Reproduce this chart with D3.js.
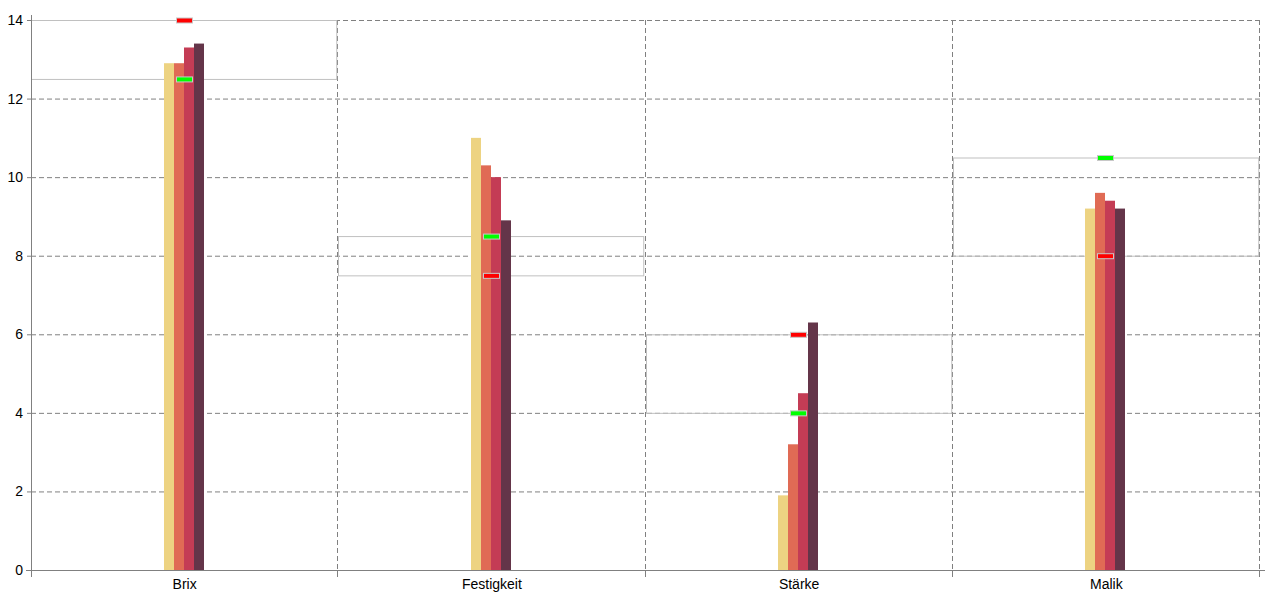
<!DOCTYPE html>
<html>
<head>
<meta charset="utf-8">
<script src="https://cdn.jsdelivr.net/npm/d3@7"></script>
<style>
	body { margin: 0; background: #fff; }
	svg text { font-family: 'Liberation Sans', Arial, sans-serif; font-size: 14px; fill: #000; }
</style>
</head>
<body>
<div class="chart"></div>
<script>
const categories = ['Brix', 'Festigkeit', 'Stärke', 'Malik']
const series = ['s1', 's2', 's3', 's4']
const colors = ['#edd382', '#e06b55', '#c43c55', '#643549']
const values = [
	[12.9, 12.9, 13.3, 13.4],
	[11.0, 10.3, 10.0, 8.9],
	[1.9, 3.2, 4.5, 6.3],
	[9.2, 9.6, 9.4, 9.2]
]
const minTarget = [12.5, 8.5, 4, 10.5]   // green
const maxTarget = [14, 7.5, 6, 8]        // red
const yTicks = [0, 2, 4, 6, 8, 10, 12, 14]

const W = 1280, H = 600
const axisX = 31

const svg = d3.select('div.chart').append('svg')
	.attr('width', W).attr('height', H)

const x = d3.scaleBand().domain(categories).range([30, 1259]).paddingInner(0).paddingOuter(0)
const xc = d3.scalePoint().domain(categories).range([31, 1260]).padding(.5)
const y = d3.scaleLinear().domain([0, 14]).range([570, 20])
const xs = d3.scaleBand().domain(series).range([0, 40])
const edge = d => Math.round(x(d) + x.bandwidth()) + .5

// grid
const grid = svg.append('g').attr('class', 'grid')
grid.selectAll('line.h').data(yTicks.filter(d => d > 0)).join('line')
	.attr('x1', axisX).attr('x2', 1260)
	.attr('y1', d => y(d) + .5).attr('y2', d => y(d) + .5)
	.attr('stroke', '#808080').attr('stroke-dasharray', '5,3')
grid.selectAll('line.v').data(categories).join('line')
	.attr('x1', edge).attr('x2', edge)
	.attr('y1', y(14)).attr('y2', y(0))
	.attr('stroke', '#808080').attr('stroke-dasharray', '5,3')

// target bands
svg.append('g').selectAll('rect').data(categories).join('rect')
	.attr('x', d => Math.round(x(d)) + 1.5)
	.attr('width', x.bandwidth() - 2)
	.attr('y', (d, i) => y(Math.max(minTarget[i], maxTarget[i])) + .5)
	.attr('height', (d, i) => Math.abs(y(minTarget[i]) - y(maxTarget[i])))
	.attr('fill', 'none').attr('stroke', '#c0c0c0')

// bars
const groups = svg.append('g').selectAll('g').data(categories).join('g')
	.attr('transform', d => `translate(${Math.round(xc(d) - 21)},0)`)
groups.selectAll('rect').data((d, i) => values[i].map((v, j) => ({ v, s: series[j], c: colors[j] }))).join('rect')
	.attr('x', d => xs(d.s))
	.attr('width', xs.bandwidth())
	.attr('y', d => y(d.v))
	.attr('height', d => y(0) - y(d.v))
	.attr('fill', d => d.c)

// markers
const markers = [].concat(
	categories.map((c, i) => ({ c, v: minTarget[i], col: '#00ff00' })),
	categories.map((c, i) => ({ c, v: maxTarget[i], col: '#ff0000' }))
)
svg.append('g').selectAll('rect').data(markers).join('rect')
	.attr('x', d => Math.round(xc(d.c)) - 8.5)
	.attr('y', d => y(d.v) - 2)
	.attr('width', 16).attr('height', 5)
	.attr('fill', d => d.col).attr('stroke', '#c8c8c8').attr('stroke-width', 1)

// axes
const ax = svg.append('g')
ax.append('line').attr('x1', axisX + .5).attr('x2', axisX + .5).attr('y1', 15).attr('y2', 577)
	.attr('stroke', '#808080')
ax.append('line').attr('x1', axisX - 5).attr('x2', 1265).attr('y1', y(0) + .5).attr('y2', y(0) + .5)
	.attr('stroke', '#808080')
ax.selectAll('line.yt').data(yTicks).join('line')
	.attr('x1', axisX - 4).attr('x2', axisX)
	.attr('y1', d => y(d) + .5).attr('y2', d => y(d) + .5)
	.attr('stroke', '#808080')
ax.selectAll('text.yl').data(yTicks).join('text')
	.attr('x', axisX - 8).attr('y', d => y(d) + 5)
	.attr('text-anchor', 'end').text(d => d)
ax.selectAll('line.xt').data(categories).join('line')
	.attr('x1', edge).attr('x2', edge)
	.attr('y1', y(0)).attr('y2', y(0) + 7)
	.attr('stroke', '#808080')
ax.selectAll('text.xl').data(categories).join('text')
	.attr('x', d => xc(d)).attr('y', 589)
	.attr('text-anchor', 'middle').text(d => d)
</script>
</body>
</html>
